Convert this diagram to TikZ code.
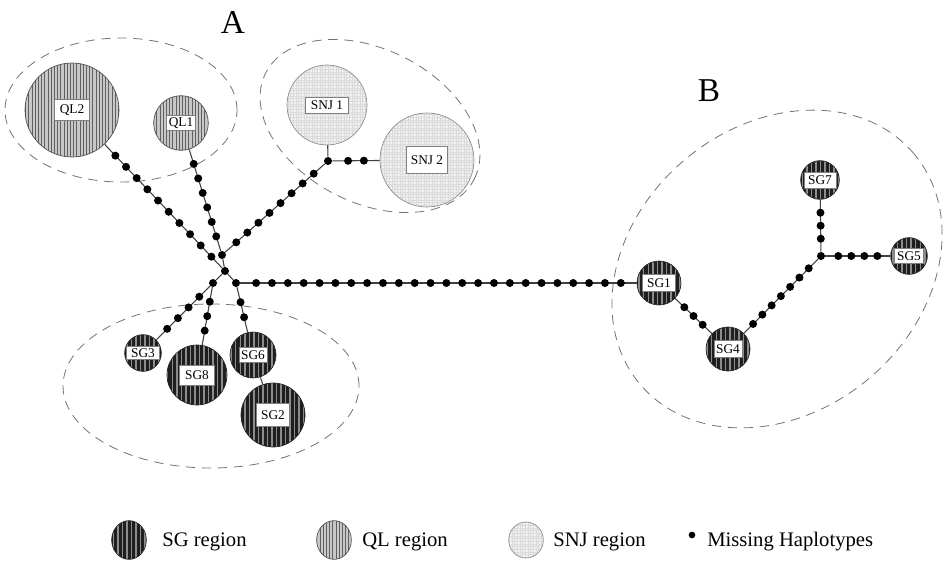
\documentclass[tikz,border=0pt]{standalone}
\usepackage{fontspec}
\setmainfont{Liberation Serif}
\usetikzlibrary{patterns.meta,shapes.geometric}

% a row of missing haplotypes on the link from #1 to #2
\newcommand\hapchain[3]{%
  \draw[link] (#1) -- (#2)
    \foreach \k [evaluate=\k as \p using \k/(#3+1)] in {1,...,#3} {
      node[hap, pos=\p] (#1-#2-\k) {}
    };
}

\tikzset{
  link/.style={draw=black!75, line width=.8pt},
  hap/.style={circle, fill=black, inner sep=0pt, minimum size=6pt},
  zone/.style={draw=black!55, line width=.6pt, dash pattern=on 7pt off 5pt},
  hapnode/.style={circle, inner sep=0pt, line width=.5pt},
  sg/.style={hapnode, draw=black!85, preaction={fill=black!88},
    pattern={Lines[angle=90,distance=3.4pt,line width=1.1pt]}, pattern color=black!45},
  ql/.style={hapnode, draw=black!70, preaction={fill=black!22},
    pattern={Lines[angle=90,distance=2.4pt,line width=.7pt]}, pattern color=black!62},
  snj/.style={hapnode, draw=black!45, preaction={fill=black!5},
    pattern={Hatch[angle=0,distance=2pt,line width=.4pt]}, pattern color=black!15},
  tag/.style={fill=white, draw=black!50, line width=.3pt, inner sep=0pt,
    font=\fontsize{10}{12}\selectfont},
  keytext/.style={anchor=base west, inner sep=0pt, font=\fontsize{15.5}{18}\selectfont},
  group/.style={font=\fontsize{25}{30}\selectfont}
}

\begin{document}
\begin{tikzpicture}[x=0.75pt, y=-0.75pt]
\useasboundingbox (0,0) rectangle (945,560);

% region outlines
\draw[zone] (121,110) circle [x radius=87pt, y radius=54pt];
\draw[zone] (370,126) circle [x radius=87.75pt, y radius=57.5pt, rotate=-27];
\draw[zone] (211,386) circle [x radius=111pt, y radius=61.5pt];
\draw[zone] (777,269) circle [x radius=134.25pt, y radius=107.25pt, rotate=40];

\node[group] (grpA) at (233,22) {A};
\node[group] (grpB) at (709,91) {B};

% haplotypes
\node[ql, minimum size=70.5pt, label={[tag, minimum width=26pt, minimum height=16pt]center:QL2}] (QL2) at (72,110) {};
\node[ql, minimum size=41pt, label={[tag, minimum width=22pt, minimum height=11pt]center:QL1}] (QL1) at (181,123) {};
\node[snj, minimum size=60pt, label={[tag, minimum width=32pt, minimum height=12pt]center:SNJ 1}] (SNJ1) at (327,105) {};
\node[snj, minimum size=70.5pt, label={[tag, minimum width=31pt, minimum height=20pt]center:SNJ 2}] (SNJ2) at (427,160) {};
\node[sg, minimum size=27.5pt, label={[tag, minimum width=25pt, minimum height=10pt]center:SG3}] (SG3) at (143,353) {};
\node[sg, minimum size=45pt, label={[tag, minimum width=26pt, minimum height=15pt]center:SG8}] (SG8) at (197,375) {};
\node[sg, minimum size=34.5pt, label={[tag, minimum width=21pt, minimum height=11pt]center:SG6}] (SG6) at (253,355) {};
\node[sg, minimum size=48pt, label={[tag, minimum width=25pt, minimum height=17pt]center:SG2}] (SG2) at (273,415) {};
\node[sg, minimum size=33pt, label={[tag, minimum width=25pt, minimum height=13pt]center:SG1}] (SG1) at (659,283) {};
\node[sg, minimum size=33pt, label={[tag, minimum width=21pt, minimum height=13pt]center:SG4}] (SG4) at (728,349) {};
\node[sg, minimum size=29pt, label={[tag, minimum width=24pt, minimum height=12pt]center:SG7}] (SG7) at (820,180) {};
\node[sg, minimum size=27.5pt, label={[tag, minimum width=22pt, minimum height=11pt]center:SG5}] (SG5) at (909,256) {};

% branching points (missing haplotypes)
\node[hap] (H) at (225,271) {};
\node[hap] (J1) at (222,255) {};
\node[hap] (L) at (213,283) {};
\node[hap] (R) at (236,283) {};
\node[hap] (Jsnj) at (328,161) {};
\node[hap] (Jb) at (821,256) {};

% links
\hapchain{QL2}{H}{10}
\hapchain{QL1}{J1}{6}
\hapchain{Jsnj}{J1}{8}
\hapchain{Jsnj}{SNJ2}{2}
\draw[link] (SNJ1) -- (Jsnj);
\draw[link] (J1) -- (H);
\draw[link] (H) -- (L);
\draw[link] (H) -- (R);
\hapchain{L}{SG3}{4}
\hapchain{L}{SG8}{3}
\hapchain{R}{SG6}{2}
\draw[link] (SG6) -- (SG2);
\hapchain{R}{SG1}{24}
\hapchain{SG1}{SG4}{3}
\hapchain{SG4}{Jb}{7}
\hapchain{Jb}{SG7}{3}
\hapchain{Jb}{SG5}{4}

% key
\node[sg, ellipse, minimum width=26pt, minimum height=29pt] (keySG) at (129,540) {};
\node[keytext] (keySGt) at (162,546) {SG region};
\node[ql, ellipse, minimum width=26pt, minimum height=29pt] (keyQL) at (334,540) {};
\node[keytext] (keyQLt) at (362,546) {QL region};
\node[snj, ellipse, minimum width=26pt, minimum height=27pt] (keySNJ) at (526,540) {};
\node[keytext] (keySNJt) at (553,546) {SNJ region};
\node[hap, minimum size=5pt] (keyHap) at (692,535) {};
\node[keytext] (keyHapt) at (707,546) {Missing Haplotypes};
\end{tikzpicture}
\end{document}
